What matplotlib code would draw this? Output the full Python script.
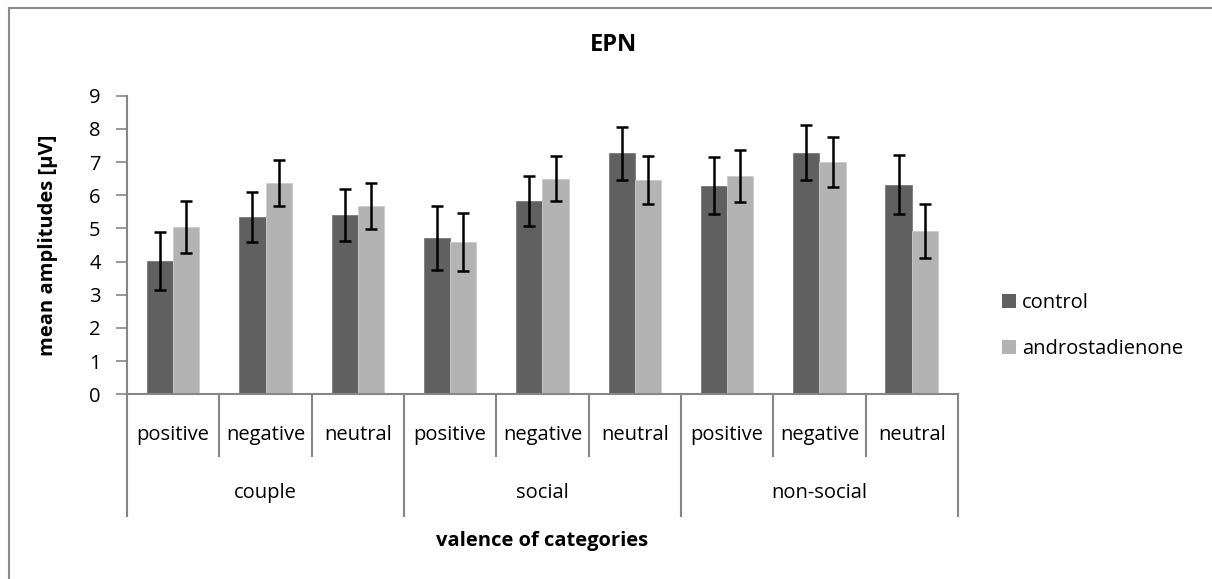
import matplotlib.pyplot as plt
from matplotlib.patches import Patch
from matplotlib.lines import Line2D
import numpy as np

plt.rcParams['font.family'] = ['Open Sans', 'DejaVu Sans']

valences = ["positive", "negative", "neutral"]
categories = ["couple", "social", "non-social"]

control = [4.02, 5.34, 5.41, 4.72, 5.83, 7.26, 6.28, 7.28, 6.32]
control_err = [0.87, 0.75, 0.78, 0.96, 0.75, 0.81, 0.86, 0.83, 0.90]
andro = [5.05, 6.36, 5.67, 4.58, 6.50, 6.46, 6.57, 7.01, 4.92]
andro_err = [0.79, 0.69, 0.70, 0.87, 0.67, 0.73, 0.78, 0.75, 0.82]

dark = "#606060"
light = "#b3b3b3"
axis_grey = "#868686"
fs = 14.5


def main():
    fig = plt.figure(figsize=(12.12, 5.79), dpi=100)
    ax = fig.add_axes([0.1048, 0.319, 0.6856, 0.5157])

    n = len(control)
    x = np.arange(n) + 0.5
    w = 0.285
    err_kw = dict(ecolor="black", elinewidth=1.8, capsize=4.5, capthick=1.8)
    ax.bar(x - w / 2, control, w, color=dark, edgecolor="#7a7a7a", linewidth=0.6,
           yerr=control_err, error_kw=err_kw, label="control")
    ax.bar(x + w / 2, andro, w, color=light, edgecolor="#cccccc", linewidth=0.6,
           yerr=andro_err, error_kw=err_kw, label="androstadienone")

    ax.set_xlim(0, n)
    ax.set_ylim(0, 9)
    ax.set_yticks(range(10))
    ax.tick_params(axis="y", direction="out", length=8, width=1.2, color=axis_grey,
                   labelsize=fs, pad=11)
    ax.set_xticks([])
    for s in ["top", "right"]:
        ax.spines[s].set_visible(False)
    for s in ["left", "bottom"]:
        ax.spines[s].set_color(axis_grey)
        ax.spines[s].set_linewidth(1.5)

    # two-level category axis
    tr = ax.get_xaxis_transform()
    for i in range(n + 1):
        bottom = -0.4076 if i % 3 == 0 else -0.2056
        ax.add_line(Line2D([i, i], [0, bottom], transform=tr, color=axis_grey,
                           lw=1.5, clip_on=False))
    for i in range(n):
        ax.text(i + 0.5, -0.135, valences[i % 3], transform=tr, ha="center",
                va="center", fontsize=fs)
    for j, c in enumerate(categories):
        ax.text(3 * j + 1.5, -0.33, c, transform=tr, ha="center", va="center",
                fontsize=fs)
    ax.text(n / 2, -0.49, "valence of categories", transform=tr, ha="center",
            va="center", fontsize=fs, fontweight="bold")

    ax.set_ylabel("mean amplitudes [µV]", fontsize=fs, fontweight="bold")
    ax.yaxis.set_label_coords(-0.083, 0.5)
    fig.text(613 / 1212, 1 - 45 / 579, "EPN", ha="center", va="center",
             fontsize=17, fontweight="bold")

    handles = [Patch(facecolor=dark, label="control"),
               Patch(facecolor=light, label="androstadienone")]
    fig.legend(handles=handles, loc="center left",
               bbox_to_anchor=(984 / 1212, 1 - 326 / 579), frameon=False,
               fontsize=fs, handlelength=0.7, handleheight=0.7,
               handletextpad=0.3, labelspacing=1.3)

    # chart border (top and left edges)
    fig.add_artist(Line2D([9 / 1212, 9 / 1212], [0, 1 - 8 / 579], color="#8a8a8a", lw=1.5))
    fig.add_artist(Line2D([9 / 1212, 1], [1 - 8 / 579, 1 - 8 / 579], color="#8a8a8a", lw=1.5))

    fig.savefig("out.png", dpi=100, facecolor="white")


if __name__ == "__main__":
    main()
